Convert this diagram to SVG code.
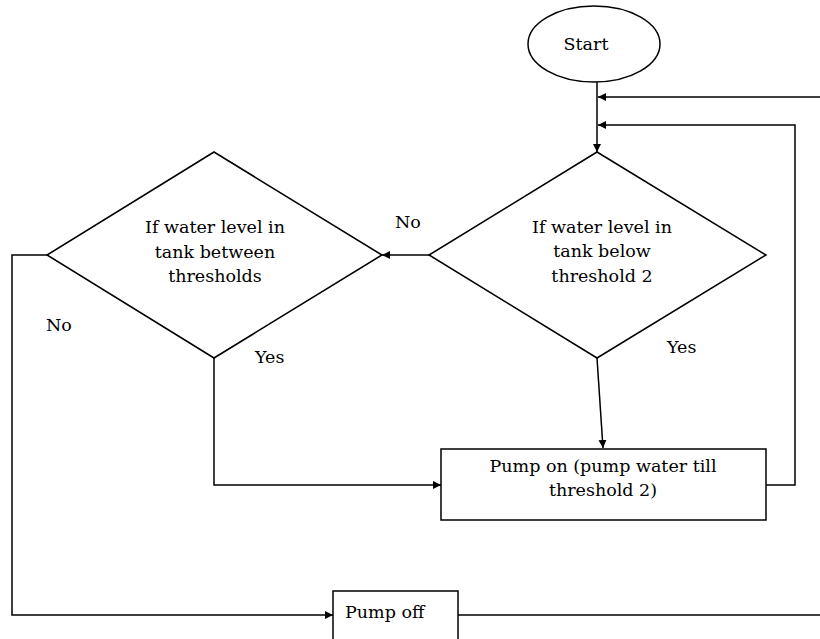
<svg xmlns="http://www.w3.org/2000/svg" width="820" height="639" viewBox="0 0 820 639">
<style>
.s{fill:#fff;stroke:#000;stroke-width:1.5}
.c{fill:none;stroke:#000;stroke-width:1.5}
.t{font-family:'DejaVu Serif','Liberation Serif',serif;font-size:17.5px;fill:#000}
.m{text-anchor:middle}
</style>
<defs>
<marker id="a" viewBox="0 0 10 10" refX="10" refY="5" markerWidth="8" markerHeight="8" markerUnits="userSpaceOnUse" orient="auto">
<path d="M0,0 L10,5 L0,10 z" fill="#000"/>
</marker>
</defs>
<rect width="820" height="639" fill="#fff"/>
<g id="connectors">
<path class="c" d="M597,82 V152" marker-end="url(#a)"/>
<path class="c" d="M820,97 H598" marker-end="url(#a)"/>
<path class="c" d="M766,485 H795 V125 H598" marker-end="url(#a)"/>
<path class="c" d="M429,255 H382" marker-end="url(#a)"/>
<path class="c" d="M597,358 L603,448" marker-end="url(#a)"/>
<path class="c" d="M214,358 V485 H441" marker-end="url(#a)"/>
<path class="c" d="M47,255 H12 V615 H333" marker-end="url(#a)"/>
<path class="c" d="M458,615 H820"/>
</g>
<g id="start">
<ellipse class="s" cx="594" cy="44" rx="66" ry="38"/>
<text class="t m" x="586" y="50">Start</text>
</g>
<g id="decision-below">
<polygon class="s" points="597,152 766,255 597,358 429,255"/>
<text class="t m" x="602" y="233">If water level in</text>
<text class="t m" x="602" y="257">tank below</text>
<text class="t m" x="602" y="282">threshold 2</text>
</g>
<g id="decision-between">
<polygon class="s" points="214,152 382,255 214,358 47,255"/>
<text class="t m" x="215" y="233">If water level in</text>
<text class="t m" x="215" y="258">tank between</text>
<text class="t m" x="215" y="282">thresholds</text>
</g>
<g id="pump-on">
<rect class="s" x="441" y="449" width="325" height="71"/>
<text class="t m" x="603" y="472">Pump on (pump water till</text>
<text class="t m" x="603" y="496">threshold 2)</text>
</g>
<g id="pump-off">
<rect class="s" x="333" y="591" width="125" height="60"/>
<text class="t" x="345" y="618">Pump off</text>
</g>
<g id="labels">
<text class="t" x="395" y="228">No</text>
<text class="t" x="46" y="331">No</text>
<text class="t" x="255" y="363">Yes</text>
<text class="t" x="667" y="353">Yes</text>
</g>
</svg>
